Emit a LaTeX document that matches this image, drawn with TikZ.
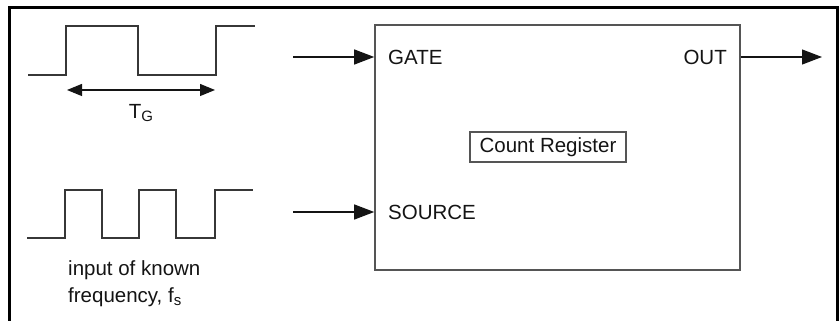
\documentclass[tikz,border=0pt]{standalone}
\usepackage{fontspec}
\setmainfont{Liberation Sans}
\usetikzlibrary{arrows.meta, positioning}
\definecolor{boxgray}{RGB}{85, 85, 85}
\definecolor{wavegray}{RGB}{55, 55, 55}
\definecolor{inktext}{RGB}{20, 20, 20}

\newcommand{\lowsub}[1]{\raisebox{-0.35ex}{\fontsize{15}{15}\selectfont #1}}

\tikzset{
  wave/.style={draw=wavegray, line width=1.1pt},
  feed/.style={draw=inktext, line width=1.2pt, -{Triangle[length=20pt, width=15pt]}},
  span/.style={draw=inktext, line width=1.2pt, {Triangle[length=15pt, width=12pt]}-{Triangle[length=15pt, width=12pt]}},
  lbl/.style={font=\fontsize{20.5}{27}\selectfont, text=inktext, inner sep=0pt}
}

\begin{document}
\begin{tikzpicture}[x=1pt, y=1pt]
  \useasboundingbox (0,0) rectangle (839,321);

  % Outer frame (open at the bottom edge)
  \draw[line width=3pt] (9.5,-5) -- (9.5,313.5) -- (837,313.5) -- (837,-5);

  % Gate waveform
  \draw[wave] (28,246) -- (66,246) -- (66,295) -- (138,295) -- (138,246)
    -- (216,246) -- (216,295) -- (255,295);
  \coordinate (tgl) at (67,231);
  \coordinate (tgr) at (215,231);
  \draw[span] (tgl) -- (tgr);
  \node[lbl] (tglabel) at (141,208) {T\lowsub{G}};

  % Source waveform
  \draw[wave] (27,83) -- (65,83) -- (65,131) -- (102,131) -- (102,83)
    -- (139,83) -- (139,131) -- (176,131) -- (176,83) -- (215,83)
    -- (215,131) -- (253,131);
  \node[lbl, align=left, anchor=north west] (freqlabel) at (68,61)
    {input of known\\frequency, f\lowsub{s}};

  % Counter block
  \node[draw=boxgray, line width=1.6pt, minimum width=365, minimum height=245,
    inner sep=0pt] (counter) at (557.5,173.5) {};
  \node[draw=boxgray, line width=1.2pt, minimum width=156, minimum height=30,
    lbl] (reg) at (548,174) {Count Register};

  % Terminal labels
  \node[lbl, anchor=west] (gate) at (388,264) {GATE};
  \node[lbl, anchor=west] (source) at (388,109) {SOURCE};
  \node[lbl, anchor=east] (out) at (727,264) {OUT};

  % Signal connections
  \coordinate (gatein) at (293,264);
  \coordinate (sourcein) at (293,109);
  \coordinate (outend) at (822,264);
  \draw[feed] (gatein) -- (gatein -| counter.west);
  \draw[feed] (sourcein) -- (sourcein -| counter.west);
  \draw[feed] (outend -| counter.east) -- (outend);
\end{tikzpicture}
\end{document}
